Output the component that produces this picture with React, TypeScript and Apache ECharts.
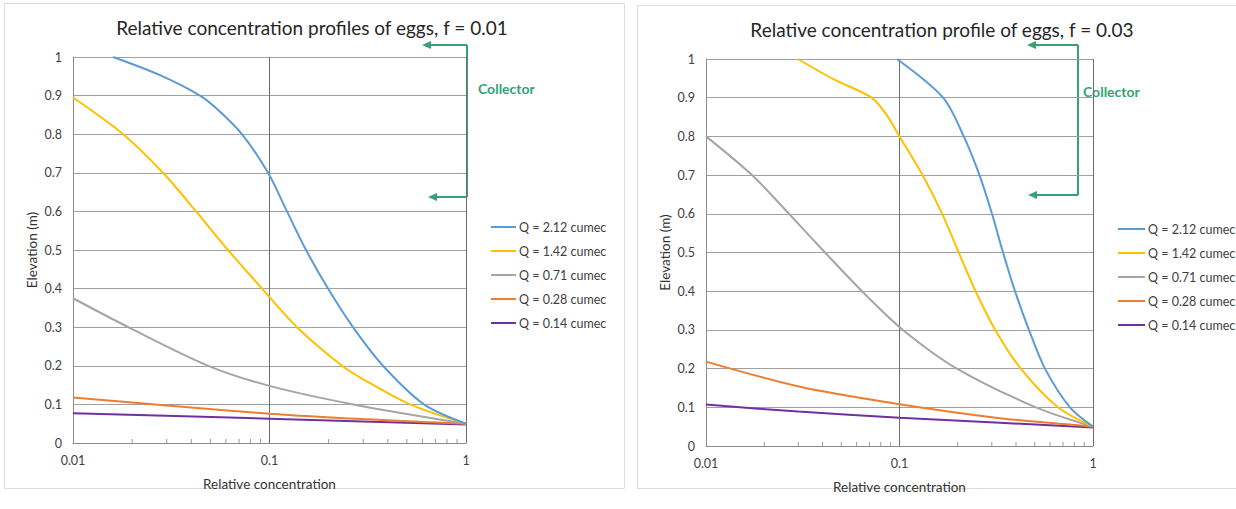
import React, { useEffect, useRef } from "react";
import * as echarts from "echarts";

// Legend entries and line colours (shared by both panels)
const seriesNames = [
  "Q = 2.12 cumec",
  "Q = 1.42 cumec",
  "Q = 0.71 cumec",
  "Q = 0.28 cumec",
  "Q = 0.14 cumec",
];
const seriesColors = ["#5B9BD5", "#FFC000", "#A5A5A5", "#ED7D31", "#7030A0"];

const titles = [
  "Relative concentration profiles of eggs, f = 0.01",
  "Relative concentration profile of eggs, f = 0.03",
];

// Profiles for f = 0.01 — [relative concentration, elevation (m)]
const f1_q212 = [
  [0.016, 1.0], [0.0277, 0.953], [0.0443, 0.9], [0.055, 0.862], [0.0724, 0.8],
  [0.0983, 0.7], [0.1227, 0.6], [0.1534, 0.5], [0.1985, 0.4], [0.266, 0.3],
  [0.378, 0.2], [0.611, 0.1], [1, 0.05],
];
const f1_q142 = [
  [0.01, 0.895], [0.018, 0.8], [0.0287, 0.7], [0.0423, 0.6], [0.0615, 0.5],
  [0.0916, 0.4], [0.138, 0.3], [0.2339, 0.2], [0.3, 0.165], [0.519, 0.1],
  [1, 0.05],
];
const f1_q071 = [
  [0.01, 0.375], [0.02, 0.295], [0.0488, 0.2], [0.1, 0.148], [0.267, 0.1],
  [1, 0.05],
];
const f1_q028 = [
  [0.01, 0.118], [0.03, 0.097], [0.1, 0.076], [0.3, 0.062], [1, 0.05],
];
const f1_q014 = [
  [0.01, 0.077], [0.1, 0.063], [1, 0.048],
];

// Profiles for f = 0.03 — [relative concentration, elevation (m)]
const f3_q212 = [
  [0.097, 1.0], [0.168, 0.9], [0.2148, 0.8], [0.259, 0.7],
  [0.3006, 0.6], [0.3428, 0.5], [0.3954, 0.4], [0.4667, 0.3], [0.5646, 0.2],
  [0.76, 0.1], [1, 0.05],
];
const f3_q142 = [
  [0.0298, 1.0], [0.0455, 0.948], [0.0718, 0.9], [0.0859, 0.855], [0.1, 0.8],
  [0.1315, 0.7], [0.1662, 0.6], [0.2023, 0.5], [0.2474, 0.4], [0.3124, 0.3],
  [0.4236, 0.2], [0.659, 0.1], [1, 0.05],
];
const f3_q071 = [
  [0.01, 0.8], [0.01729, 0.7], [0.02685, 0.6], [0.0412, 0.5], [0.064, 0.4],
  [0.1042, 0.3], [0.198, 0.2], [0.507, 0.1], [1, 0.05],
];
const f3_q028 = [
  [0.01, 0.218], [0.0306, 0.153], [0.1, 0.108], [0.33, 0.072], [1, 0.05],
];
const f3_q014 = [
  [0.01, 0.107], [0.03, 0.089], [0.1, 0.073], [0.33, 0.06], [1, 0.048],
];

const panelData = [
  [f1_q212, f1_q142, f1_q071, f1_q028, f1_q014],
  [f3_q212, f3_q142, f3_q071, f3_q028, f3_q014],
];

// Minor tick positions on the logarithmic concentration axis
const minorTickValues = [
  0.02, 0.03, 0.04, 0.05, 0.06, 0.07, 0.08, 0.09,
  0.2, 0.3, 0.4, 0.5, 0.6, 0.7, 0.8, 0.9,
];

const FONT = "Lato, 'Liberation Sans', sans-serif";
const TEXT = "#404040";
const GREEN = "#35A276";

const grids = [
  { left: 73, top: 57, width: 393, height: 386 },
  { left: 706, top: 59, width: 387, height: 387 },
];

function buildOption(): echarts.EChartsOption {
  const series: any[] = [];
  panelData.forEach((lines, gi) => {
    lines.forEach((pts, si) => {
      series.push({
        type: "line",
        name: seriesNames[si],
        xAxisIndex: gi,
        yAxisIndex: gi,
        data: pts,
        symbol: "none",
        smooth: 0.3,
        z: 10 - si,
        lineStyle: { color: seriesColors[si], width: 2 },
        itemStyle: { color: seriesColors[si] },
      });
    });
    series.push({
      type: "custom",
      xAxisIndex: gi,
      yAxisIndex: gi,
      silent: true,
      data: minorTickValues.map((v) => [v, 0]),
      renderItem: (_params: any, api: any) => {
        const p = api.coord([api.value(0), 0]);
        return {
          type: "line",
          shape: { x1: p[0], y1: p[1], x2: p[0], y2: p[1] - 4 },
          style: { stroke: "#9a9a9a", lineWidth: 1 },
        };
      },
    });
  });

  const arrow = (xLine: number, y: number, xTip: number) => [
    {
      type: "line",
      shape: { x1: xLine, y1: y, x2: xTip + 6, y2: y },
      style: { stroke: GREEN, lineWidth: 2 },
    },
    {
      type: "polygon",
      shape: { points: [[xTip, y], [xTip + 9, y - 4], [xTip + 9, y + 4]] },
      style: { fill: GREEN },
    },
  ];

  const collector = (
    xLine: number, yTop: number, yBot: number,
    tipTop: number, tipBot: number, tx: number, ty: number,
  ) => [
    {
      type: "line",
      shape: { x1: xLine, y1: yTop, x2: xLine, y2: yBot },
      style: { stroke: GREEN, lineWidth: 2 },
    },
    ...arrow(xLine, yTop, tipTop),
    ...arrow(xLine, yBot, tipBot),
    {
      type: "text",
      x: tx,
      y: ty,
      style: {
        text: "Collector",
        fill: GREEN,
        font: `bold 14px ${FONT}`,
        textVerticalAlign: "middle",
      },
    },
  ];

  const legendBase = {
    orient: "vertical" as const,
    data: seriesNames,
    icon: "rect",
    itemWidth: 25,
    itemHeight: 2,
    itemGap: 10,
    padding: 0,
    selectedMode: false,
    textStyle: { fontSize: 12.5, color: TEXT, fontFamily: FONT, padding: [0, 0, 0, -2], lineHeight: 14 },
  };

  return {
    animation: false,
    backgroundColor: "#ffffff",
    textStyle: { fontFamily: FONT },
    title: [
      {
        text: titles[0],
        left: 312,
        top: 18,
        textAlign: "center",
        padding: 0,
        textStyle: { fontSize: 19, fontWeight: "normal", color: "#262626", fontFamily: FONT },
      },
      {
        text: titles[1],
        left: 942,
        top: 20,
        textAlign: "center",
        padding: 0,
        textStyle: { fontSize: 19, fontWeight: "normal", color: "#262626", fontFamily: FONT },
      },
    ],
    legend: [
      { ...legendBase, left: 491, top: 220 },
      { ...legendBase, left: 1118, top: 222, itemWidth: 27 },
    ],
    grid: grids.map((g) => ({ ...g, containLabel: false })),
    xAxis: grids.map((_, i) => ({
      type: "log",
      gridIndex: i,
      min: 0.01,
      max: 1,
      logBase: 10,
      name: "Relative concentration",
      nameLocation: "middle",
      nameGap: 34,
      nameTextStyle: { fontSize: 13.5, color: "#333", fontFamily: FONT },
      axisLine: { show: true, lineStyle: { color: "#8c8c8c", width: 1 } },
      axisTick: { show: false },
      axisLabel: { fontSize: 12.5, color: TEXT, margin: 11, fontFamily: FONT },
      splitLine: { show: true, lineStyle: { color: "#6e6e6e", width: 1 } },
    })),
    yAxis: grids.map((_, i) => ({
      type: "value",
      gridIndex: i,
      min: 0,
      max: 1,
      interval: 0.1,
      name: "Elevation (m)",
      nameLocation: "middle",
      nameGap: 34,
      nameRotate: 90,
      nameTextStyle: { fontSize: 13.5, color: "#333", fontFamily: FONT },
      axisLine: { show: true, lineStyle: { color: "#8c8c8c", width: 1 } },
      axisTick: { show: false },
      axisLabel: {
        fontSize: 12.5,
        color: TEXT,
        margin: 11,
        fontFamily: FONT,
        formatter: (v: number) => String(Math.round(v * 10) / 10),
      },
      splitLine: { show: true, lineStyle: { color: "#a0a0a0", width: 1 } },
    })),
    graphic: [
      {
        type: "rect",
        shape: { x: 4.5, y: 3.5, width: 620, height: 485 },
        style: { fill: "none", stroke: "#dcdcdc", lineWidth: 1 },
        silent: true,
        z: -10,
      },
      {
        type: "rect",
        shape: { x: 637.5, y: 5.5, width: 610, height: 483 },
        style: { fill: "none", stroke: "#dcdcdc", lineWidth: 1 },
        silent: true,
        z: -10,
      },
      ...collector(467, 45, 197, 422, 428, 478, 88),
      ...collector(1078, 45, 195, 1027, 1028, 1083, 91),
    ] as any,
    series,
  };
}

export default function App() {
  const ref = useRef<HTMLDivElement>(null);

  useEffect(() => {
    if (!ref.current) return;
    const chart = echarts.init(ref.current, undefined, { renderer: "svg" });
    chart.setOption(buildOption());
    return () => chart.dispose();
  }, []);

  return (
    <div
      ref={ref}
      style={{
        position: "absolute",
        left: 0,
        top: 0,
        width: 1236,
        height: 509,
        background: "#ffffff",
      }}
    />
  );
}
